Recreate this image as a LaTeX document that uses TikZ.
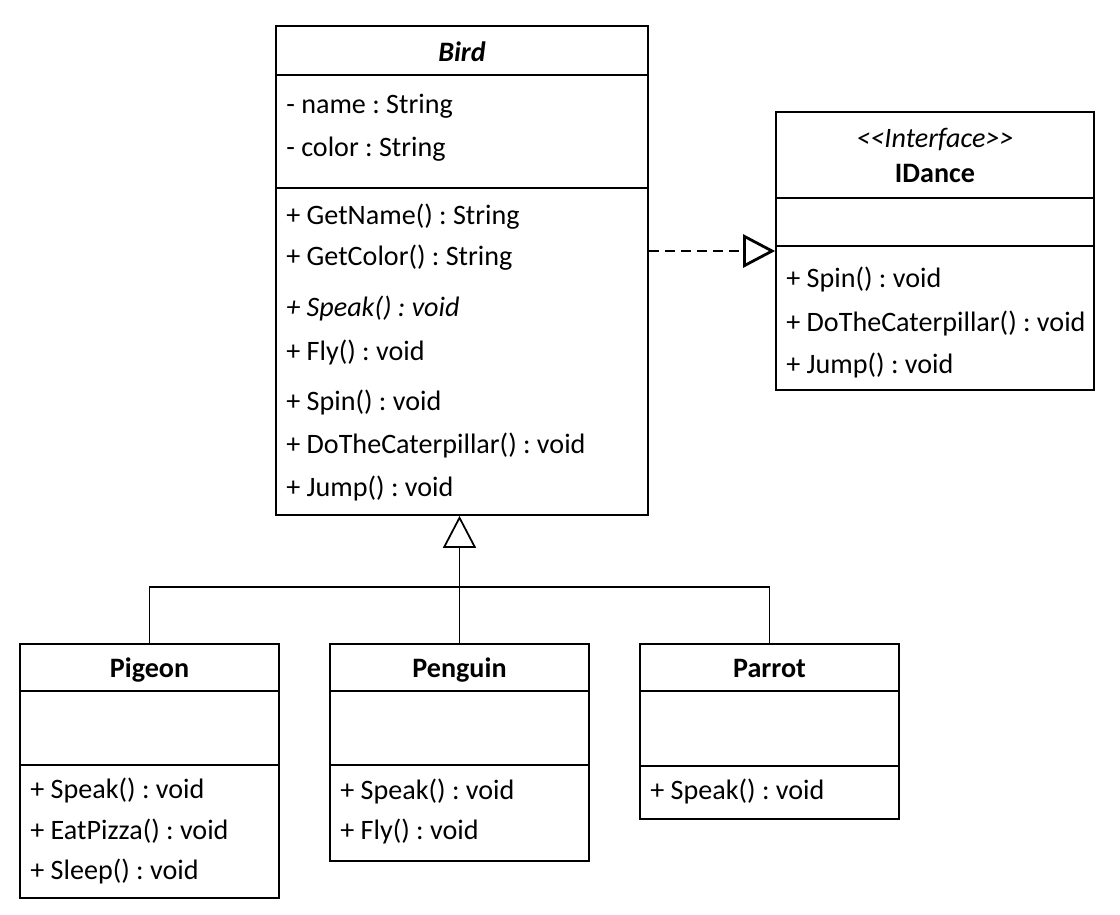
\documentclass[tikz,border=0pt]{standalone}
\usepackage{fontspec}
\setmainfont{Carlito}
\usepackage{tikz}
\usetikzlibrary{arrows.meta}
\frenchspacing
\tikzset{
  classbox/.style={draw,line width=1pt,inner sep=0pt},
  member/.style={anchor=west,inner sep=0pt},
  classname/.style={anchor=base,inner sep=0pt,font=\fontsize{16}{19}\selectfont\bfseries},
  inherit/.style={line width=1pt,-{Triangle[open,length=0.64cm,width=0.66cm]}},
  realize/.style={line width=1.6pt,dash pattern=on 0.2cm off 0.12cm,-{Triangle[open,length=0.64cm,width=0.66cm]}}
}

\begin{document}
\begin{tikzpicture}[x=0.02cm,y=-0.02cm,font=\fontsize{16}{19}\selectfont]
\useasboundingbox (0,0) rectangle (1120,914);
\node[classbox,minimum width=7.44cm,minimum height=9.78cm] (bird) at (462,270.5) {};
\draw[line width=1pt] (bird.west |- 0,75) -- (bird.east |- 0,75);
\draw[line width=1pt] (bird.west |- 0,188) -- (bird.east |- 0,188);
\node[classname] (birdname) at (462,61) {\itshape Bird};
\node[member] (attrname) at (286,106) {- name : String};
\node[member] (attrcolor) at (286,149) {- color : String};
\node[member] (getname) at (286,217) {+ GetName() : String};
\node[member] (getcolor) at (286,258) {+ GetColor() : String};
\node[member] (speak) at (286,308) {\itshape + Speak() : void};
\node[member] (fly) at (286,352) {+ Fly() : void};
\node[member] (spin) at (286,402) {+ Spin() : void};
\node[member] (caterpillar) at (286,445) {+ DoTheCaterpillar() : void};
\node[member] (jump) at (286,488) {+ Jump() : void};

\node[classbox,minimum width=6.36cm,minimum height=5.56cm] (idance) at (935,251) {};
\draw[line width=1pt] (idance.west |- 0,198) -- (idance.east |- 0,198);
\draw[line width=1pt] (idance.west |- 0,246) -- (idance.east |- 0,246);
\node[anchor=base,inner sep=0pt] (stereo) at (935,147) {\itshape <\kern0pt<Interface>\kern0pt>};
\node[classname] (idancename) at (935,182) {IDance};
\node[member] (ispin) at (786,279) {+ Spin() : void};
\node[member] (icaterpillar) at (786,323) {+ DoTheCaterpillar() : void};
\node[member] (ijump) at (786,365) {+ Jump() : void};

\node[classbox,minimum width=5.18cm,minimum height=5.08cm] (pigeon) at (149.5,771) {};
\draw[line width=1pt] (pigeon.west |- 0,691) -- (pigeon.east |- 0,691);
\draw[line width=1pt] (pigeon.west |- 0,765) -- (pigeon.east |- 0,765);
\node[classname] (pigeonname) at (149.5,677) {Pigeon};
\node[member] (pspeak) at (30,790) {+ Speak() : void};
\node[member] (peat) at (30,831) {+ EatPizza() : void};
\node[member] (psleep) at (30,871) {+ Sleep() : void};

\node[classbox,minimum width=5.18cm,minimum height=4.34cm] (penguin) at (459.5,752.5) {};
\draw[line width=1pt] (penguin.west |- 0,691) -- (penguin.east |- 0,691);
\draw[line width=1pt] (penguin.west |- 0,765) -- (penguin.east |- 0,765);
\node[classname] (penguinname) at (459.5,677) {Penguin};
\node[member] (gspeak) at (340,791) {+ Speak() : void};
\node[member] (gfly) at (340,831) {+ Fly() : void};

\node[classbox,minimum width=5.18cm,minimum height=3.5cm] (parrot) at (769.5,731.5) {};
\draw[line width=1pt] (parrot.west |- 0,691) -- (parrot.east |- 0,691);
\draw[line width=1pt] (parrot.west |- 0,766) -- (parrot.east |- 0,766);
\node[classname] (parrotname) at (769.5,677) {Parrot};
\node[member] (rspeak) at (650,791) {+ Speak() : void};

\coordinate (bus) at (459.5,587);
\draw[realize] (bird.east |- idance.west) -- (idance.west);
\draw[inherit] (penguin.north) -- (penguin.north |- bird.south);
\draw[line width=1pt] (pigeon.north) |- (bus) -| (parrot.north);
\end{tikzpicture}
\end{document}
